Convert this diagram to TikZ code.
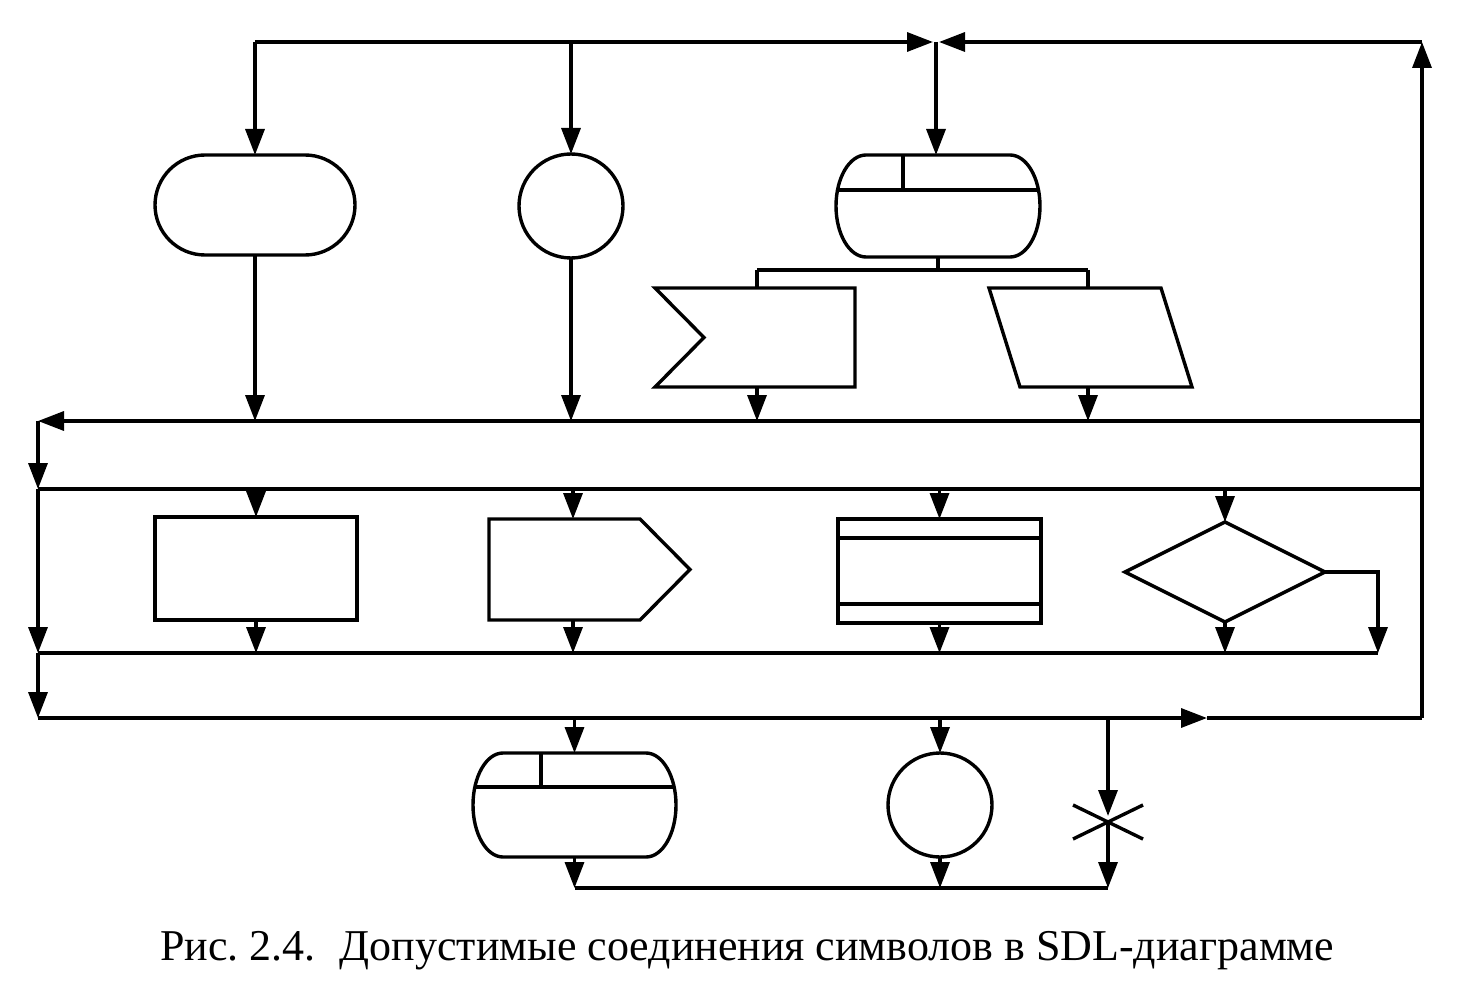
\documentclass[tikz,border=0pt]{standalone}
\usepackage{fontspec}
\setmainfont{Liberation Serif}
\usetikzlibrary{shapes.geometric,shapes.misc,arrows.meta,calc}
\newcommand\sdlstatepath[2]{($(#1.north west)+(30,0)$) -- ($(#1.north east)+(-30,0)$) arc[start angle=-90,end angle=90,x radius=30,y radius=#2] -- ($(#1.south west)+(30,0)$) arc[start angle=90,end angle=270,x radius=30,y radius=#2] -- cycle}
\begin{document}
\begin{tikzpicture}[x=1pt,y=-1pt, line width=3.4pt,
  sym/.style={draw, line width=3.4pt, inner sep=0pt, outer sep=0pt},
  box/.style={draw=none, inner sep=0pt, outer sep=0pt, rectangle},
  arr/.style={-{Triangle[length=26pt,width=19pt]}}
]
\useasboundingbox (0,0) rectangle (1477,984);

% ---------- top row symbols
\node[sym, rounded rectangle, minimum width=200pt, minimum height=100pt] (term) at (255,205) {};
\node[sym, circle, minimum size=104pt] (c1) at (571,206) {};
\node[box, minimum width=204pt, minimum height=102pt] (st1) at (938,206) {};
\begin{scope}
  \clip \sdlstatepath{st1}{51};
  \draw ($(st1.north west)+(0,35)$) -- ($(st1.north east)+(0,35)$);
  \draw ($(st1.north west)+(67,0)$) -- ($(st1.north west)+(67,35)$);
\end{scope}
\draw \sdlstatepath{st1}{51};

\node[box, minimum width=200pt, minimum height=99pt] (inp) at (755,337.5) {};
\draw (inp.north west) -- (inp.north east) -- (inp.south east) -- (inp.south west) -- ($(inp.west)+(49,0)$) -- cycle;
\node[box, minimum width=203pt, minimum height=99pt] (par) at (1090.5,337.5) {};
\draw (par.north west) -- ($(par.north east)+(-31,0)$) -- (par.south east) -- ($(par.south west)+(31,0)$) -- cycle;

% ---------- middle row symbols
\node[sym, rectangle, minimum width=202pt, minimum height=103pt] (task) at (256,568.5) {};
\node[box, minimum width=201pt, minimum height=101pt] (out) at (589.5,569.5) {};
\draw (out.north west) -- ($(out.north east)+(-50,0)$) -- (out.east) -- ($(out.south east)+(-50,0)$) -- (out.south west) -- cycle;
\node[sym, rectangle, minimum width=203pt, minimum height=104pt] (proc) at (939.5,571) {};
\draw ([yshift=-19pt]proc.north west) -- ([yshift=-19pt]proc.north east);
\draw ([yshift=19pt]proc.south west) -- ([yshift=19pt]proc.south east);
\node[sym, diamond, aspect=2, minimum width=200pt, minimum height=100pt] (dec) at (1225,572) {};

% ---------- bottom row symbols
\node[box, minimum width=203pt, minimum height=104pt] (st2) at (574.5,805) {};
\begin{scope}
  \clip \sdlstatepath{st2}{52};
  \draw ($(st2.north west)+(0,34)$) -- ($(st2.north east)+(0,34)$);
  \draw ($(st2.north west)+(68,0)$) -- ($(st2.north west)+(68,34)$);
\end{scope}
\draw \sdlstatepath{st2}{52};
\node[sym, circle, minimum size=104pt] (c2) at (940,805) {};

% ---------- junction coordinates
\coordinate (TL) at (255,42);
\coordinate (TM) at (936,42);
\coordinate (TR) at (1422,42);
\coordinate (A1L) at (38,421);  \coordinate (A1R) at (1422,421);
\coordinate (A2L) at (38,489);  \coordinate (A2R) at (1422,489);
\coordinate (B1L) at (38,653);  \coordinate (B1R) at (1378,653);
\coordinate (B2L) at (38,718);  \coordinate (B2R) at (1422,718);
\coordinate (B2A) at (1207,718);
\coordinate (I1) at (757,270);  \coordinate (P1) at (1088,270);
\coordinate (OX) at (573,569.5);
\coordinate (AS) at (1108,718);
\coordinate (X) at (1108,822);
\coordinate (BB) at (1108,888);

% ---------- top bus
\draw[arr] (TL) -- ([xshift=-3pt]TM);
\draw[arr] (TR) -- ([xshift=3pt]TM);
\draw[arr] (TM) -- (TM |- st1.north);
\draw[arr] (B2R) -- (TR);
\draw[arr] (TL) -- (term.north);
\draw[arr] (c1 |- TL) -- (c1.north);

% ---------- into first band
\draw[arr] (term.south) -- (term |- A1L);
\draw[arr] (c1.south) -- (c1 |- A1L);
\draw (st1.south) -- (st1.south |- I1);
\draw (I1) -- (P1);
\draw (I1) -- (I1 |- inp.north);
\draw (P1) -- (P1 |- par.north);
\draw[arr] (I1 |- inp.south) -- (I1 |- A1L);
\draw[arr] (P1 |- par.south) -- (P1 |- A1L);

% ---------- bands
\draw[arr] (A1R) -- (A1L);
\draw[arr] (A1L) -- (A2L);
\draw (A2L) -- (A2R);
\draw[arr] (A2L) -- (B1L);
\draw[arr] (B1L) -- (B2L);
\draw (B1L) -- (B1R);
\draw[arr] (B2L) -- (B2A);
\draw (B2A) -- (B2R);

% ---------- middle row connectors
\draw[arr] (task |- A2L) -- (task.north);
\draw[arr] (task.south) -- (task |- B1L);
\draw[arr] (OX |- A2L) -- (OX |- out.north);
\draw[arr] (OX |- out.south) -- (OX |- B1L);
\draw[arr] (proc |- A2L) -- (proc.north);
\draw[arr] (proc.south) -- (proc |- B1L);
\draw[arr] (dec |- A2L) -- (dec.north);
\draw[arr] (dec.south) -- (dec |- B1L);
\draw[arr] (dec.east) -- (dec.east -| B1R) -- (B1R);

% ---------- bottom row connectors
\draw[arr] (st2 |- B2L) -- (st2.north);
\draw[arr] (c2 |- B2L) -- (c2.north);
\draw[arr] (st2.south) -- (st2 |- BB);
\draw[arr] (c2.south) -- (c2 |- BB);
\draw (st2 |- BB) -- (BB);
\draw[arr] (AS) -- ([yshift=6pt]X);
\draw[arr] (X) -- (BB);
\draw ($(X)+(-35,-17)$) -- ($(X)+(35,17)$);
\draw ($(X)+(-35,17)$) -- ($(X)+(35,-17)$);

% ---------- caption
\node[box, anchor=base west] (cap) at (160,960) {\fontsize{44pt}{50pt}\selectfont Рис.~2.4.\hspace{0.55em}Допустимые соединения символов в SDL-диаграмме};
\end{tikzpicture}
\end{document}
